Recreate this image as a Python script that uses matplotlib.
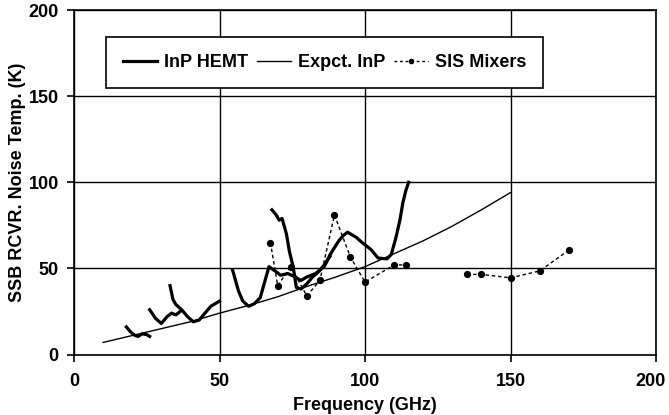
import numpy as np
import matplotlib.pyplot as plt
from matplotlib.transforms import ScaledTranslation

plt.rcParams['font.family'] = ['Liberation Sans', 'DejaVu Sans']

# InP HEMT measured noise (several amplifiers), GHz / K
hemt_a_f = [18, 19.5, 21, 22, 23.5, 25, 26]
hemt_a_t = [16, 13, 11, 10.5, 12, 11.5, 10.5]
hemt_b_f = [26, 28, 30, 32, 33.5, 35, 36.5]
hemt_b_t = [26, 21, 18, 22, 24, 23, 25]
hemt_c_f = [33, 34, 35, 37, 39, 41, 43, 45, 47, 48.5, 50]
hemt_c_t = [40, 32, 29, 26, 22, 19, 20, 24, 28, 29.5, 31]
hemt_d_f = [54.5, 56.5, 58, 60, 62, 64, 65.5, 67, 69.5, 71, 73.5, 76, 78, 80,
            83, 86, 88, 91, 92.5, 94, 97, 99, 102, 104.5, 107.5, 109, 110.5,
            112, 113, 114, 115]
hemt_d_t = [49, 37, 31, 28, 29.5, 33, 42, 51, 48, 46, 47, 45, 43, 45,
            47, 51, 58, 66, 69, 71, 68, 65, 61, 56, 55.5, 58, 67,
            78, 88, 95, 100]
hemt_e_f = [68, 69.5, 70.5, 71.5, 73, 74, 75.3, 76.4, 78, 80, 82, 84, 86, 88]
hemt_e_t = [84, 81, 78, 79, 70, 60, 51, 39, 38, 41, 45, 48, 52, 57]

# expected InP
exp_f = [10, 20, 30, 40, 50, 60, 70, 80, 90, 100, 110, 120, 130, 140, 150]
exp_t = [7, 11, 15, 19, 24, 28.5, 33.5, 39.5, 45, 51, 58.5, 66, 74.5, 84, 94]

# SIS mixers (nan = gap in the line)
sis_f = [67.5, 70, 74.5, 80, 84.5, 89.5, 95, 100, 110, 114,
         np.nan, 135, 140, 150, 160, 170]
sis_t = [65, 40, 51, 34, 43, 81, 56.5, 42, 52, 52,
         np.nan, 46.5, 46.5, 44.5, 48.5, 60.5]

ticks = [0, 50, 100, 150, 200]
fs = 13

fig = plt.figure(figsize=(6.69, 4.15), dpi=100)
ax = fig.add_axes([74/669, 1 - 354.5/415, (656-74)/669, (354.5-10)/415])

for f, t in [(hemt_a_f, hemt_a_t), (hemt_b_f, hemt_b_t), (hemt_c_f, hemt_c_t),
             (hemt_d_f, hemt_d_t), (hemt_e_f, hemt_e_t)]:
    ax.plot(f, t, color='black', lw=2.3, solid_joinstyle='round', zorder=4)
ax.plot(exp_f, exp_t, color='black', lw=1.0, zorder=3)
ax.plot(sis_f, sis_t, color='black', lw=1.0, ls=(0, (2.5, 2)),
        marker='o', ms=4.2, zorder=5)

ax.set_xlim(0, 200)
ax.set_ylim(0, 200)
ax.set_xticks(ticks)
ax.set_yticks(ticks)
ax.grid(True, color='black', lw=1.0)
ax.set_axisbelow(True)
for s in ax.spines.values():
    s.set_linewidth(1.2)
ax.tick_params(direction='out', length=5, width=1.2, labelsize=fs)
ax.tick_params(axis='x', pad=8)
ax.tick_params(axis='y', pad=6)
for lab in ax.get_xticklabels() + ax.get_yticklabels():
    lab.set_fontweight('bold')
# last x label pulled in so it stays on the canvas
last = ax.get_xticklabels()[-1]
last.set_transform(last.get_transform() + ScaledTranslation(-6/100, 0, fig.dpi_scale_trans))

ax.set_xlabel('Frequency (GHz)', fontsize=fs, fontweight='bold', labelpad=5)
ax.set_ylabel('SSB RCVR. Noise Temp. (K)', fontsize=fs, fontweight='bold', labelpad=2)

h1, = ax.plot([], [], color='black', lw=2.3)
h2, = ax.plot([], [], color='black', lw=1.0)
h3, = ax.plot([], [], color='black', lw=1.0, ls=(0, (2, 2)), marker='o', ms=3)
leg = ax.legend([h1, h2, h3], ['InP HEMT', 'Expct. InP', 'SIS Mixers'],
                ncol=3, loc='upper left', bbox_to_anchor=(11/200, 184.5/200),
                frameon=True, fancybox=False, edgecolor='black', framealpha=1,
                prop={'weight': 'bold', 'size': fs}, borderpad=0.95,
                handlelength=1.9, columnspacing=0.5, handletextpad=0.35,
                borderaxespad=0)
leg.get_frame().set_linewidth(1.2)

fig.savefig('out.png', dpi=100)
